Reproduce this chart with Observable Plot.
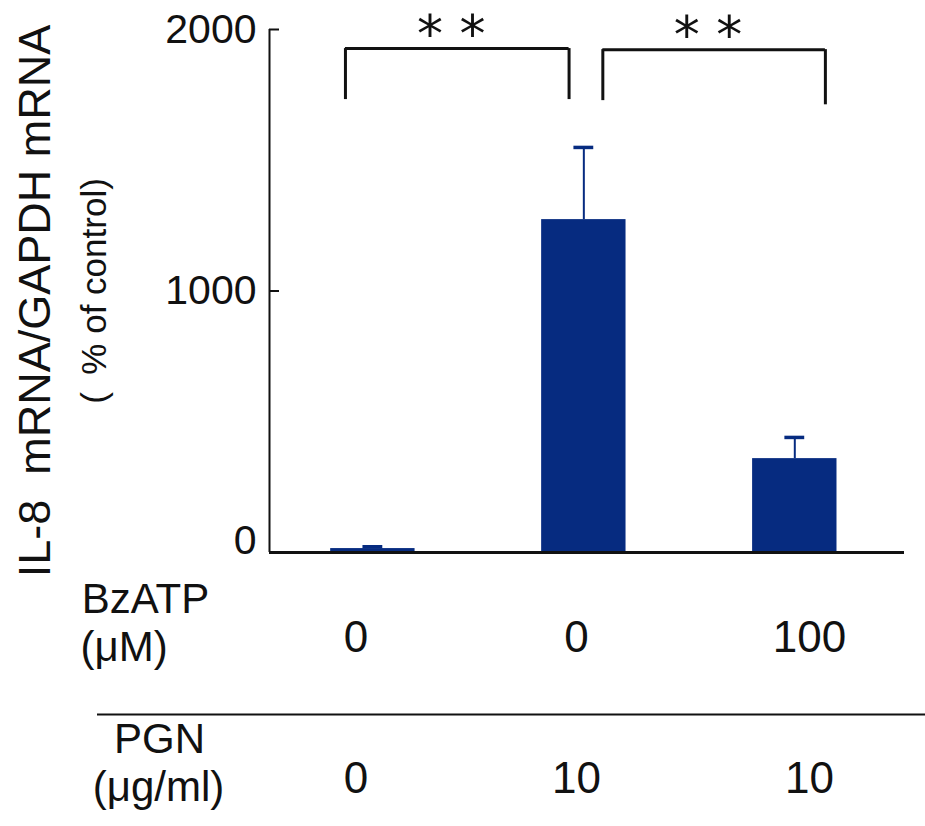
<!DOCTYPE html>
<html><head><meta charset="utf-8">
<script src="https://cdn.jsdelivr.net/npm/d3@7"></script>
<script src="https://cdn.jsdelivr.net/npm/@observablehq/plot@0.6"></script>
<style>
  body { margin: 0; background: #fff; }
  #chart svg { font-family: "Liberation Sans", Arial, sans-serif; background: #fff; }
</style>
</head><body><div id="chart"></div>
<script>
// ---- data ----
const groups = [0, 1, 2];
const means = [15, 1273, 359];
const sems = [7, 276, 81];
const bzatp = ["0", "0", "100"];
const pgn = ["0", "10", "10"];
const yTicks = [0, 1000, 2000];
const comparisons = [{from: 0, to: 1, label: "* *"}, {from: 1, to: 2, label: "* *"}];
const yTitle = "IL-8  mRNA/GAPDH mRNA";
const ySubtitle = "(\u2002% of control)";
const rowLabels = ["BzATP", "(\u03bcM)", "PGN", "(\u03bcg/ml)"];

// ---- style / layout ----
const navy = "#062b80";
const ink = "#111";
const xDomain = [-0.49, 2.52];
const halfBar = 0.2;
const capHalf = 0.047;
const legOffset = [[-0.13, -0.07], [0.09, 0.145]];
const legBottom = [[1732, 1732], [1728, 1712]];
const bracketTop = [1927, 1923];
const colNudge = [-0.08, -0.035, 0.07];

const legs = comparisons.flatMap((c, k) => [
  {x: c.from + legOffset[k][0], y1: legBottom[k][0], y2: bracketTop[k]},
  {x: c.to + legOffset[k][1], y1: legBottom[k][1], y2: bracketTop[k]}
]);
const tops = comparisons.map((c, k) => ({
  x1: c.from + legOffset[k][0], x2: c.to + legOffset[k][1], y: bracketTop[k], label: c.label
}));

const chart = Plot.plot({
  width: 925,
  height: 826,
  marginTop: 29,
  marginBottom: 274,
  marginLeft: 269,
  marginRight: 21,
  x: {type: "linear", domain: xDomain, axis: null},
  y: {domain: [0, 2000], axis: null},
  marks: [
    // bars
    Plot.rectY(groups, {x1: i => i - halfBar, x2: i => i + halfBar, y1: 0, y2: i => means[i], fill: navy}),
    // error bars
    Plot.ruleX(groups, {x: i => i, y1: i => means[i], y2: i => means[i] + sems[i], stroke: navy, strokeWidth: 2}),
    Plot.ruleY(groups, {y: i => means[i] + sems[i], x1: i => i - capHalf, x2: i => i + capHalf, stroke: navy, strokeWidth: 3.5}),
    // axes
    Plot.ruleX([xDomain[0]], {y1: 0, y2: 2000, stroke: ink, strokeWidth: 2}),
    Plot.ruleY([0], {stroke: ink, strokeWidth: 3}),
    Plot.tickY(yTicks.filter(d => d > 0), {y: d => d, insetRight: 625, stroke: ink, strokeWidth: 2}),
    Plot.text(yTicks.filter(d => d > 0), {y: d => d, text: d => String(d), frameAnchor: "left", textAnchor: "end", dx: -13, fontSize: 41, fill: ink}),
    Plot.text(yTicks.filter(d => d === 0), {y: d => d, text: d => String(d), frameAnchor: "left", textAnchor: "end", dx: -13, dy: -12, fontSize: 41, fill: ink}),
    // y titles
    Plot.text([yTitle], {text: d => d, frameAnchor: "left", textAnchor: "middle", rotate: -90, dx: -234, dy: 10, fontSize: 45, fill: ink}),
    Plot.text([ySubtitle], {text: d => d, frameAnchor: "left", textAnchor: "middle", rotate: -90, dx: -175, dy: 0, fontSize: 35, fill: ink}),
    // significance brackets
    Plot.ruleX(legs, {x: "x", y1: "y1", y2: "y2", stroke: ink, strokeWidth: 3}),
    Plot.ruleY(tops, {y: "y", x1: "x1", x2: "x2", stroke: ink, strokeWidth: 3}),
    Plot.text(tops, {x: d => (d.x1 + d.x2) / 2, y: "y", text: "label", dx: -6, dy: -13, fontSize: 52, fontFamily: "DejaVu Sans", fill: ink}),
    // condition table
    Plot.text(groups, {x: i => i + colNudge[i], y: () => 0, text: i => bzatp[i], dy: 85, fontSize: 44, fill: ink}),
    Plot.text(groups, {x: i => i + colNudge[i], y: () => 0, text: i => pgn[i], dy: 226, fontSize: 44, fill: ink}),
    Plot.text([rowLabels[0]], {text: d => d, frameAnchor: "bottom-left", textAnchor: "middle", dx: -124, dy: 60, fontSize: 42, fill: ink}),
    Plot.text([rowLabels[1]], {text: d => d, frameAnchor: "bottom-left", textAnchor: "start", dx: -189, dy: 108, fontSize: 42, fill: ink}),
    Plot.text([rowLabels[2]], {text: d => d, frameAnchor: "bottom-left", textAnchor: "middle", dx: -110, dy: 200, fontSize: 42, fill: ink}),
    Plot.text([rowLabels[3]], {text: d => d, frameAnchor: "bottom-left", textAnchor: "middle", dx: -111, dy: 248, fontSize: 42, fill: ink}),
    Plot.ruleY([0], {dy: 162, insetLeft: -172, insetRight: -21, stroke: ink, strokeWidth: 2})
  ]
});
document.getElementById("chart").appendChild(chart);
</script>
</body></html>
